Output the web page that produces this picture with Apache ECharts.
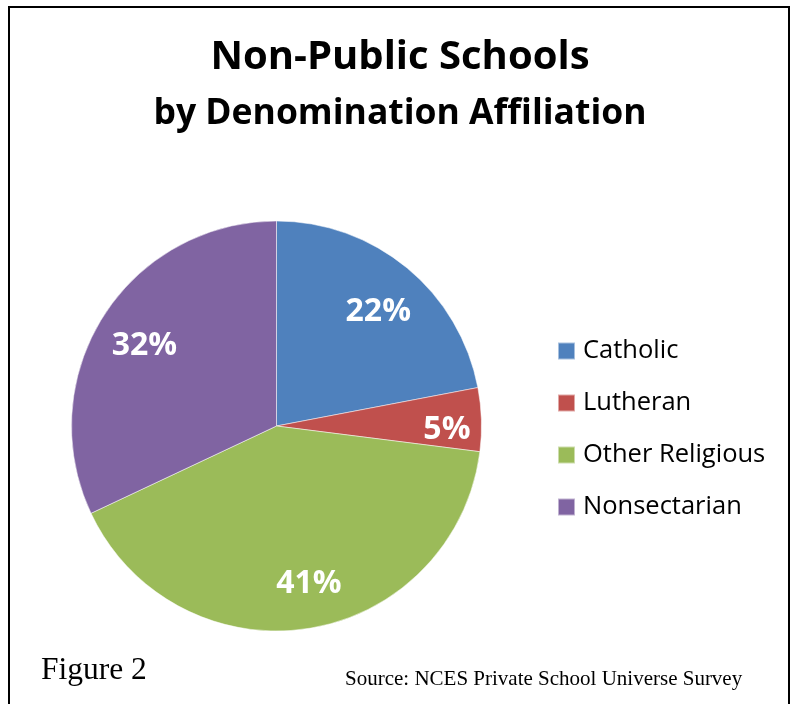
<!DOCTYPE html>
<html>
<head>
<meta charset="utf-8">
<script src="https://cdn.jsdelivr.net/npm/echarts@6/dist/echarts.min.js"></script>
<style>
  html, body { margin: 0; padding: 0; background: #fff; }
  #chart { width: 795px; height: 704px; }
</style>
</head>
<body>
<div id="chart"></div>
<script>
// data
let categories = ['Catholic', 'Lutheran', 'Other Religious', 'Nonsectarian']
let shares = [22, 5, 41, 32]
let colors = ['#4F81BD', '#C0504D', '#9BBB59', '#8064A2']
// small nudges so labels sit where Excel's best-fit put them
let labelOffsets = [[2, 6], [14, 9], [8, 3], [0, 4]]

let myChart = echarts.init(document.getElementById('chart'))

let pieData = categories.map((name, i) => ({ name: name, value: shares[i] }))
let labelData = categories.map((name, i) => ({
  name: name,
  value: shares[i],
  label: { offset: labelOffsets[i] }
}))

let option = {
  animation: false,
  color: colors,
  title: [{
    text: 'Non-Public Schools',
    left: 395,
    top: 33,
    textAlign: 'center',
    textStyle: { fontFamily: 'Open Sans', fontWeight: 'bold', fontSize: 40, color: '#000' }
  }, {
    text: 'by Denomination Affiliation',
    left: 395,
    top: 91,
    textAlign: 'center',
    textStyle: { fontFamily: 'Open Sans', fontWeight: 'bold', fontSize: 35.5, color: '#000' }
  }, {
    text: 'Figure 2',
    left: 36,
    top: 650,
    textStyle: { fontFamily: 'Liberation Serif', fontWeight: 'normal', fontSize: 31.5, color: '#000' }
  }, {
    text: 'Source: NCES Private School Universe Survey',
    left: 340,
    top: 664,
    textStyle: { fontFamily: 'Liberation Serif', fontWeight: 'normal', fontSize: 21, color: '#000' }
  }],
  legend: {
    orient: 'vertical',
    left: 552,
    top: 333,
    icon: 'rect',
    itemWidth: 17,
    itemHeight: 17,
    itemGap: 26,
    data: categories,
    textStyle: {
      fontFamily: 'Open Sans',
      fontSize: 25.5,
      lineHeight: 25.5,
      color: '#000',
      padding: [0, 0, 0, 3]
    }
  },
  graphic: [{
    type: 'rect',
    shape: { x: 9, y: 7, width: 780, height: 710 },
    style: { fill: 'none', stroke: '#000', lineWidth: 2 },
    silent: true
  }],
  series: [{
    name: 'share',
    type: 'pie',
    center: [276.5, 426],
    radius: 205,
    startAngle: 90,
    clockwise: true,
    data: pieData,
    label: { show: false },
    labelLine: { show: false },
    itemStyle: { borderColor: 'rgba(255,255,255,0.5)', borderWidth: 1 },
    emphasis: { disabled: true }
  }, {
    name: 'labels',
    type: 'pie',
    center: [276.5, 426],
    radius: [102, 205],
    startAngle: 90,
    clockwise: true,
    silent: true,
    data: labelData,
    itemStyle: { color: 'transparent' },
    label: {
      show: true,
      position: 'inside',
      formatter: '{c}%',
      fontFamily: 'Open Sans',
      fontWeight: 'bold',
      fontSize: 32,
      color: '#fff'
    },
    labelLine: { show: false },
    emphasis: { disabled: true },
    legendHoverLink: false
  }]
}

myChart.setOption(option)
</script>
</body>
</html>
